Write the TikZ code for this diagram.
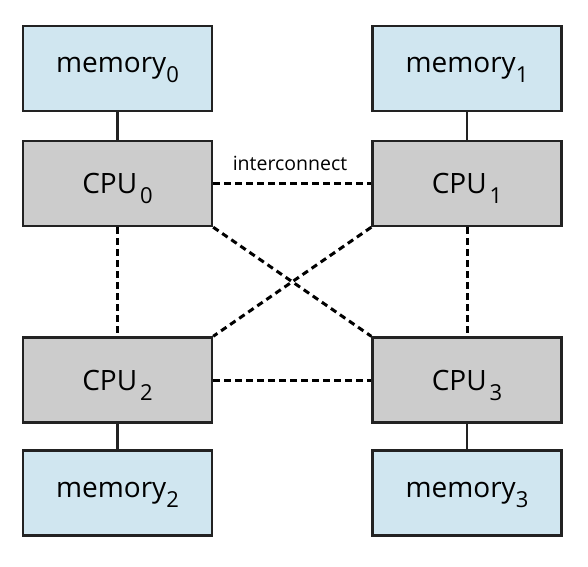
\documentclass[tikz,border=0pt]{standalone}
\usepackage{fontspec}
\setmainfont{Open Sans}
\definecolor{memfill}{HTML}{D0E6F0}
\definecolor{cpufill}{HTML}{CCCCCC}
\definecolor{edge}{HTML}{222222}
\newcommand{\mysub}[1]{\raisebox{-0.36em}[0pt][0pt]{\fontsize{22}{22}\selectfont #1}}
\begin{document}
\begin{tikzpicture}[x=1pt,y=-1pt,
  box/.style={draw=edge,line width=2.4pt,minimum width=189pt,minimum height=85pt,inner sep=0pt,
    font=\fontsize{28}{30}\selectfont},
  membox/.style={box,fill=memfill},
  cpubox/.style={box,fill=cpufill},
  link/.style={draw=edge,line width=2.2pt},
  ic/.style={draw=black,line width=3pt,dash pattern=on 6.5pt off 4.5pt}]
\useasboundingbox (0,0) rectangle (588,566);
\node[membox] (m0) at (117.5,68.5) {memory\mysub{0}};
\node[membox] (m1) at (467,68.5) {memory\mysub{1}};
\node[cpubox] (c0) at (117.5,183.5) {CPU\hspace{3pt}\mysub{0}};
\node[cpubox] (c1) at (467,183.5) {CPU\hspace{3pt}\mysub{1}};
\node[cpubox] (c2) at (117.5,380) {CPU\hspace{3pt}\mysub{2}};
\node[cpubox] (c3) at (467,380) {CPU\hspace{3pt}\mysub{3}};
\node[membox] (m2) at (117.5,493) {memory\mysub{2}};
\node[membox] (m3) at (467,493) {memory\mysub{3}};
\draw[link] (m0) -- (c0);
\draw[link] (m1) -- (c1);
\draw[link] (c2) -- (m2);
\draw[link] (c3) -- (m3);
\draw[ic] (c0.east) -- (c1.west);
\draw[ic] (c2.east) -- (c3.west);
\draw[ic] (c0.south) -- (c2.north);
\draw[ic] (c1.south) -- (c3.north);
\draw[ic] (c0.south east) -- (c3.north west);
\draw[ic] (c1.south west) -- (c2.north east);
\node[font=\fontsize{19.5}{21}\selectfont] (lbl) at (290,163) {interconnect};
\end{tikzpicture}
\end{document}
